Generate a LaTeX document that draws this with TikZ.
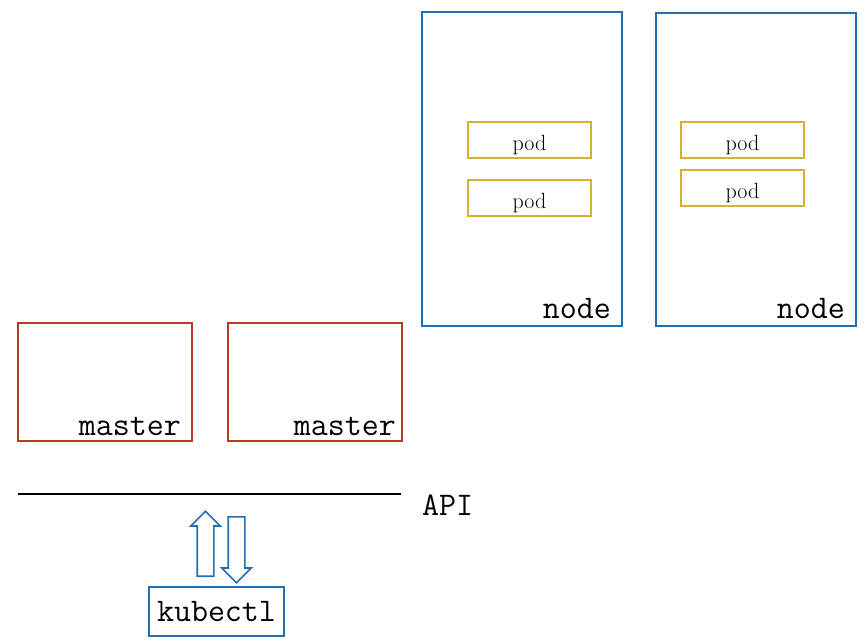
\documentclass[tikz,border=0pt]{standalone}
\usepackage{fontspec}
\usetikzlibrary{shapes.arrows}
\definecolor{masterred}{RGB}{186,58,40}
\definecolor{nodeblue}{RGB}{36,110,178}
\definecolor{podgold}{RGB}{214,178,52}
\newcommand{\bigtt}{\fontsize{33}{33}\selectfont\ttfamily}
\begin{document}
\begin{tikzpicture}[x=1pt,y=-1pt,
	box/.style={shape=rectangle,draw,line width=2pt,inner sep=0pt},
	masterbox/.style={box,draw=masterred,minimum width=174pt,minimum height=118pt},
	hostbox/.style={box,draw=nodeblue,minimum width=200pt,minimum height=313pt},
	podbox/.style={box,draw=podgold,minimum width=123pt,minimum height=36pt,text height=20pt,text depth=0pt,font=\fontsize{22}{22}\selectfont},
	corner/.style={anchor=south east,inner sep=0pt,font=\bigtt},
	hollow/.style={single arrow,draw=nodeblue,line width=1.6pt,anchor=tail,inner xsep=0pt,inner ysep=7.5pt,single arrow head extend=6.5pt}]
\useasboundingbox (0,0) rectangle (867,642);
% masters
\node (m1) [masterbox] at (105,382) {};
\node (m2) [masterbox] at (315,382) {};
\node [corner] at ([xshift=-12pt,yshift=6pt]m1.south east) {master};
\node [corner] at ([xshift=-7pt,yshift=6pt]m2.south east) {master};
% worker nodes
\node (n1) [hostbox] at (522,169) {};
\node (n2) [hostbox] at (756,169.5) {};
\node [corner] at ([xshift=-12pt,yshift=8pt]n1.south east) {node};
\node [corner] at ([xshift=-12pt,yshift=8pt]n2.south east) {node};
\node (p1) [podbox] at (529.5,140) {pod};
\node (p2) [podbox] at (529.5,198) {pod};
\node (p3) [podbox] at (742.5,140) {pod};
\node (p4) [podbox] at (742.5,188) {pod};
% api line
\coordinate (apiL) at (18,494);
\coordinate (apiR) at (401,494);
\draw [line width=1.6pt] (apiL) -- (apiR);
\node (api) [anchor=west,inner sep=0pt,font=\bigtt] at (422,505) {API};
% kubectl
\node (kctl) [box,draw=nodeblue,minimum width=135pt,minimum height=49pt,font=\bigtt] at (216.5,611.5) {kubectl};
\node (up) [hollow,rotate=90,minimum height=65pt] at (205.5,577) {};
\node (down) [hollow,rotate=-90,minimum height=66pt] at (236.5,516) {};
\end{tikzpicture}
\end{document}
